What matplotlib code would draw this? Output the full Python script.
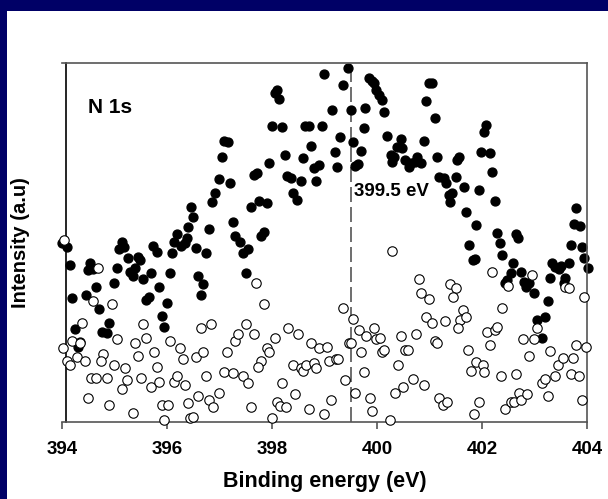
import matplotlib
matplotlib.use('Agg')
import matplotlib.pyplot as plt
from matplotlib.patches import Rectangle

plt.rcParams['font.family'] = ['Liberation Sans', 'DejaVu Sans']
plt.rcParams['font.weight'] = 'bold'

# N 1s spectrum, filled circles (upper curve)
be_filled = [394.00, 394.10, 394.15, 394.53, 394.50, 394.59, 394.20, 394.45, 394.65, 394.71,
             394.25, 394.90, 394.76, 394.85, 394.34, 394.31, 394.99, 395.05, 395.14, 395.18,
             395.09, 395.25, 395.45, 395.49, 395.30, 395.39, 395.35, 395.55, 395.69, 395.60,
             395.66, 395.74, 395.81, 395.85, 396.05, 396.00, 395.90, 395.95, 396.19, 396.13,
             396.27, 396.34, 396.38, 396.09, 396.55, 396.74, 396.60, 396.69, 396.65, 396.45,
             396.49, 396.40, 396.80, 396.92, 396.85, 397.00, 397.20, 397.04, 397.09, 397.16,
             397.25, 397.30, 397.39, 397.44, 397.55, 397.50, 397.60, 397.76, 397.90, 397.65,
             397.71, 397.84, 397.79, 397.95, 398.00, 398.19, 398.06, 398.10, 398.14, 398.25,
             398.28, 398.36, 398.40, 398.47, 398.55, 398.60, 398.63, 398.71, 398.75, 398.80,
             398.89, 398.84, 398.95, 399.00, 399.15, 399.29, 399.20, 399.24, 399.35, 399.45,
             399.50, 399.55, 399.59, 399.64, 399.69, 399.75, 399.78, 399.85, 399.91, 399.94,
             399.99, 400.04, 400.09, 400.13, 400.20, 400.45, 400.39, 400.48, 400.26, 400.32,
             400.29, 400.54, 400.64, 400.61, 400.77, 400.83, 400.73, 400.89, 400.94, 400.99,
             401.04, 401.10, 401.15, 401.18, 401.28, 401.31, 401.37, 401.43, 401.40, 401.50,
             401.56, 401.53, 401.66, 401.70, 401.89, 401.94, 401.99, 402.15, 402.07, 402.03,
             402.20, 402.25, 402.29, 402.35, 402.39, 401.75, 401.82, 401.87, 402.64, 402.69,
             402.59, 402.55, 402.48, 402.44, 402.75, 402.80, 402.83, 402.90, 402.99, 403.26,
             403.30, 403.34, 403.40, 403.47, 403.50, 403.65, 403.59, 403.56, 403.69, 403.90,
             403.94, 404.01, 403.20, 403.05, 403.14, 403.80, 403.75, 403.86]
int_filled = [49.9, 48.7, 43.7, 44.2, 42.3, 42.5, 34.5, 35.4, 37.5, 31.4,
              25.8, 27.5, 25.2, 24.7, 22.4, 21.0, 38.8, 43.0, 50.1, 48.7,
              48.2, 45.6, 46.0, 45.1, 41.9, 42.8, 40.7, 39.7, 41.4, 34.0,
              34.7, 48.9, 47.4, 37.7, 41.6, 33.2, 29.5, 26.4, 52.4, 50.1,
              49.0, 49.9, 51.3, 47.2, 48.4, 47.2, 40.8, 38.4, 35.4, 59.8,
              57.2, 54.4, 53.8, 63.7, 61.4, 67.6, 66.5, 73.7, 78.3, 78.1,
              55.6, 51.8, 50.2, 47.2, 48.1, 41.6, 60.0, 61.6, 60.9, 68.8,
              69.3, 53.0, 51.9, 72.1, 82.5, 82.1, 91.6, 92.5, 90.0, 74.3,
              68.5, 67.9, 63.9, 61.8, 67.2, 73.6, 82.4, 82.5, 77.0, 70.7,
              71.6, 67.0, 82.5, 96.8, 86.9, 79.5, 75.3, 70.9, 93.9, 98.5,
              86.9, 78.1, 71.3, 71.8, 75.6, 81.8, 87.5, 95.7, 95.1, 94.3,
              92.5, 91.1, 89.7, 86.4, 79.7, 78.7, 76.7, 76.2, 74.4, 73.9,
              72.5, 73.0, 72.1, 71.1, 73.9, 72.2, 72.5, 78.3, 89.4, 94.4,
              94.5, 84.6, 73.9, 68.3, 67.9, 66.7, 63.2, 63.7, 61.4, 68.3,
              73.9, 73.0, 65.4, 58.6, 54.9, 64.6, 75.3, 74.8, 82.7, 80.9,
              69.7, 61.6, 52.7, 49.9, 46.5, 49.3, 45.1, 45.3, 52.4, 51.2,
              44.2, 41.4, 39.6, 38.6, 41.7, 39.1, 37.7, 38.6, 35.8, 33.7,
              40.0, 44.4, 43.3, 42.5, 43.5, 44.4, 40.0, 38.8, 49.3, 48.7,
              45.6, 42.8, 29.3, 28.4, 23.3, 59.5, 55.1, 54.7]

# open circles (lower curve)
be_open = [394.04, 394.69, 394.60, 394.95, 394.39, 394.20, 394.34, 394.01, 394.10, 394.15,
           394.29, 394.44, 394.79, 394.74, 395.00, 395.20, 395.04, 395.55, 395.60, 395.40,
           395.44, 395.76, 395.81, 396.05, 396.25, 396.30, 396.55, 396.69, 396.65, 396.84,
           397.14, 397.30, 397.36, 397.50, 397.65, 397.70, 397.84, 397.90, 397.95, 397.79,
           397.74, 398.06, 398.30, 398.49, 398.75, 398.89, 399.05, 399.09, 398.40, 398.55,
           398.60, 398.65, 398.80, 398.84, 394.55, 394.65, 394.85, 395.24, 395.14, 395.50,
           395.70, 395.85, 396.14, 396.20, 396.34, 396.74, 397.09, 397.25, 397.44, 397.55,
           398.19, 398.44, 394.50, 394.90, 395.35, 395.90, 396.01, 395.95, 396.40, 396.60,
           396.80, 396.88, 397.00, 396.44, 396.50, 397.60, 398.00, 398.10, 398.16, 398.26,
           398.70, 399.00, 399.13, 400.29, 399.35, 399.55, 399.21, 399.26, 399.47, 399.51,
           399.66, 399.79, 399.94, 399.99, 400.05, 399.70, 400.10, 400.14, 399.75, 399.40,
           399.59, 399.86, 399.90, 400.25, 400.34, 400.49, 400.40, 400.45, 400.54, 400.60,
           400.69, 400.89, 400.75, 400.80, 400.84, 400.99, 400.94, 401.05, 401.10, 401.15,
           401.30, 401.39, 401.50, 401.45, 401.64, 401.59, 401.70, 401.54, 401.74, 401.89,
           402.01, 402.04, 401.80, 401.19, 401.26, 401.34, 401.85, 401.94, 402.09, 402.25,
           402.29, 402.15, 402.20, 402.39, 402.36, 402.64, 402.44, 402.55, 402.61, 402.71,
           402.75, 402.85, 402.79, 402.95, 402.50, 402.90, 402.99, 403.05, 403.30, 403.14,
           403.20, 403.25, 403.39, 403.45, 403.54, 403.74, 403.80, 403.69, 403.85, 403.90,
           403.99, 403.94, 403.59, 403.65]
int_open = [50.7, 42.8, 33.8, 32.9, 27.7, 22.6, 22.1, 20.5, 17.1, 15.9,
            18.0, 17.1, 18.9, 17.1, 15.9, 15.0, 23.0, 27.2, 23.5, 22.1,
            18.4, 19.4, 15.4, 22.6, 20.5, 17.5, 18.0, 19.4, 26.1, 27.2,
            19.4, 22.6, 24.5, 27.2, 24.5, 38.8, 32.8, 20.5, 19.4, 17.1,
            15.4, 23.5, 26.1, 24.5, 22.1, 20.5, 21.0, 17.0, 15.9, 15.0,
            14.3, 15.9, 16.4, 15.0, 12.3, 12.3, 12.3, 11.7, 9.2, 12.3,
            9.8, 11.2, 11.2, 12.8, 10.3, 12.8, 13.8, 13.7, 12.8, 10.8,
            10.8, 7.7, 6.6, 4.7, 2.6, 4.7, 4.7, 0.6, 5.2, 7.2,
            6.1, 4.3, 8.2, 1.0, 1.5, 4.1, 1.0, 5.7, 4.5, 4.3,
            3.6, 2.2, 6.1, 47.6, 31.7, 28.6, 17.5, 17.5, 22.1, 22.1,
            25.6, 24.0, 26.1, 23.0, 23.5, 19.4, 19.6, 20.1, 13.8, 11.7,
            8.2, 6.8, 3.1, 0.6, 8.2, 9.8, 15.9, 24.0, 20.1, 20.1,
            11.9, 10.3, 24.5, 39.8, 35.8, 34.3, 29.2, 27.7, 22.6, 22.1,
            28.1, 38.4, 37.2, 34.7, 31.2, 28.4, 29.2, 26.1, 20.1, 16.8,
            15.9, 13.8, 14.3, 6.6, 4.7, 5.5, 2.1, 5.5, 25.2, 25.6,
            26.5, 21.4, 41.9, 31.7, 12.8, 13.3, 3.6, 5.5, 5.7, 8.2,
            6.1, 7.7, 23.0, 40.9, 37.9, 18.5, 23.0, 26.1, 19.9, 10.8,
            11.9, 7.2, 12.8, 15.9, 17.7, 17.9, 21.4, 13.3, 12.8, 6.1,
            21.0, 34.7, 37.7, 37.2]

xticks = [394, 396, 398, 400, 402, 404]
peak = 399.5

fig = plt.figure(figsize=(6.08, 4.99), dpi=100)
fig.patch.set_facecolor('white')
# dark blue slide border (top and left only)
fig.add_artist(Rectangle((0, 1 - 11 / 499), 1, 11 / 499, transform=fig.transFigure,
                         facecolor='#000066', edgecolor='none', zorder=0))
fig.add_artist(Rectangle((0, 0), 7 / 608, 1, transform=fig.transFigure,
                         facecolor='#000066', edgecolor='none', zorder=0))

ax = fig.add_axes([62 / 608, 77 / 499, 525 / 608, 359 / 499])
ax.set_xlim(394, 404)
ax.set_ylim(0, 100)

ax.axvline(peak, color='#555555', lw=1.2, dashes=(9, 3), zorder=1)
ax.plot(be_filled, int_filled, 'o', color='black', ms=6.4, mec='black', clip_on=False, zorder=2)
ax.plot(be_open, int_open, 'o', mfc='white', mec='black', ms=6.8, mew=0.8, clip_on=False, zorder=3)

ax.text(394.5, 87.7, 'N 1s', fontsize=15, fontweight='bold', va='center', ha='left')
ax.text(399.57, 64.1, '399.5 eV', fontsize=13.5, fontweight='bold', va='center', ha='left')

for s in ['top', 'right', 'bottom']:
    ax.spines[s].set_color('#555555')
    ax.spines[s].set_linewidth(1.2)
ax.spines['left'].set_position(('data', 394.08))
ax.spines['left'].set_color('black')
ax.spines['left'].set_linewidth(1.2)

ax.set_xticks(xticks)
ax.set_xticklabels([str(t) for t in xticks], fontsize=13.5, fontweight='bold')
ax.tick_params(axis='x', direction='out', length=5, width=1.2, color='#555555', pad=9)
ax.set_yticks([])

ax.set_xlabel('Binding energy (eV)', fontsize=15.5, fontweight='bold', labelpad=9)
ax.set_ylabel('Intensity (a.u)', fontsize=14.5, fontweight='bold', labelpad=26)

fig.savefig('out.png', dpi=100)
